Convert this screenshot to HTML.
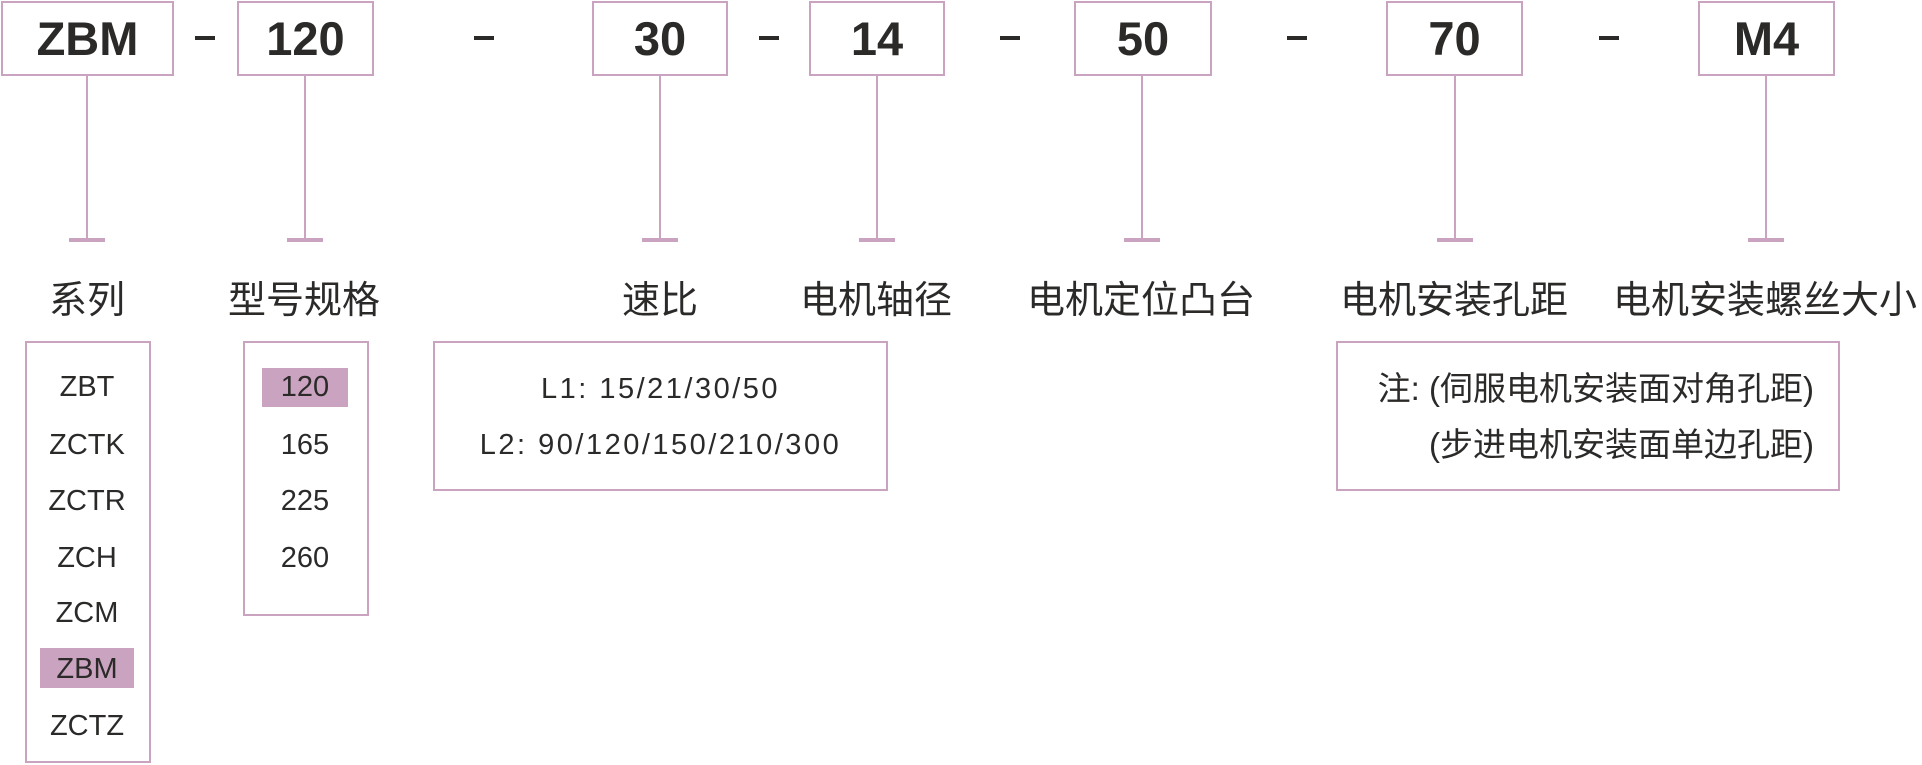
<!DOCTYPE html>
<html><head><meta charset="utf-8"><style>
body{margin:0;width:1922px;height:765px;background:#fff;position:relative;overflow:hidden;font-family:"Liberation Sans","Noto Sans CJK SC",sans-serif;color:#2b2a29}
.b{position:absolute;border:2px solid #c9a3bf;box-sizing:border-box}
.t{position:absolute;display:flex;align-items:center;justify-content:center;font-weight:bold;font-size:47px}
.v{position:absolute;width:2px;background:#c9a3bf;top:75px;height:165px}
.tb{position:absolute;height:4px;width:36px;background:#c9a3bf;top:238px}
.d{position:absolute;top:36px;width:20px;height:4px;background:#2b2a29}
.l{position:absolute;top:269px;font-size:38px;width:400px;text-align:center;white-space:nowrap}
.i{position:absolute;font-size:29px;text-align:center;width:120px;line-height:40px;white-space:nowrap}
.h{position:absolute;background:#c9a3bf}
</style></head><body>
<div class="b t" style="left:1px;top:1px;width:173px;height:75px">ZBM</div>
<div class="b t" style="left:237px;top:1px;width:137px;height:75px">120</div>
<div class="b t" style="left:592px;top:1px;width:136px;height:75px">30</div>
<div class="b t" style="left:809px;top:1px;width:136px;height:75px">14</div>
<div class="b t" style="left:1074px;top:1px;width:138px;height:75px">50</div>
<div class="b t" style="left:1386px;top:1px;width:137px;height:75px">70</div>
<div class="b t" style="left:1698px;top:1px;width:137px;height:75px">M4</div>
<div class="d" style="left:195px"></div><div class="d" style="left:474px"></div><div class="d" style="left:759px"></div><div class="d" style="left:1000px"></div><div class="d" style="left:1287px"></div><div class="d" style="left:1599px"></div>
<div class="v" style="left:86px"></div><div class="tb" style="left:69px"></div>
<div class="v" style="left:304px"></div><div class="tb" style="left:287px"></div>
<div class="v" style="left:659px"></div><div class="tb" style="left:642px"></div>
<div class="v" style="left:876px"></div><div class="tb" style="left:859px"></div>
<div class="v" style="left:1141px"></div><div class="tb" style="left:1124px"></div>
<div class="v" style="left:1454px"></div><div class="tb" style="left:1437px"></div>
<div class="v" style="left:1765px"></div><div class="tb" style="left:1748px"></div>
<div class="l" style="left:-113px">系列</div>
<div class="l" style="left:104px">型号规格</div>
<div class="l" style="left:460px">速比</div>
<div class="l" style="left:676px">电机轴径</div>
<div class="l" style="left:941px">电机定位凸台</div>
<div class="l" style="left:1254px">电机安装孔距</div>
<div class="l" style="left:1565px">电机安装螺丝大小</div>
<div class="b" style="left:25px;top:341px;width:126px;height:422px"></div>
<div class="h" style="left:40px;top:648px;width:94px;height:40px"></div>
<div class="i" style="left:27px;top:367px">ZBT</div>
<div class="i" style="left:27px;top:425px">ZCTK</div>
<div class="i" style="left:27px;top:481px">ZCTR</div>
<div class="i" style="left:27px;top:538px">ZCH</div>
<div class="i" style="left:27px;top:593px">ZCM</div>
<div class="i" style="left:27px;top:649px">ZBM</div>
<div class="i" style="left:27px;top:706px">ZCTZ</div>
<div class="b" style="left:243px;top:341px;width:126px;height:275px"></div>
<div class="h" style="left:262px;top:368px;width:86px;height:39px"></div>
<div class="i" style="left:245px;top:367px">120</div>
<div class="i" style="left:245px;top:425px">165</div>
<div class="i" style="left:245px;top:481px">225</div>
<div class="i" style="left:245px;top:538px">260</div>
<div class="b" style="left:433px;top:341px;width:455px;height:150px"></div>
<div class="i" style="left:433px;width:455px;top:369px;letter-spacing:2.5px">L1: 15/21/30/50</div>
<div class="i" style="left:433px;width:455px;top:425px;letter-spacing:2.5px">L2: 90/120/150/210/300</div>
<div class="b" style="left:1336px;top:341px;width:504px;height:150px"></div>
<div class="i" style="left:1340px;width:474px;text-align:right;top:369px;font-size:33px">注: (伺服电机安装面对角孔距)</div>
<div class="i" style="left:1340px;width:474px;text-align:right;top:425px;font-size:33px">(步进电机安装面单边孔距)</div>
</body></html>
